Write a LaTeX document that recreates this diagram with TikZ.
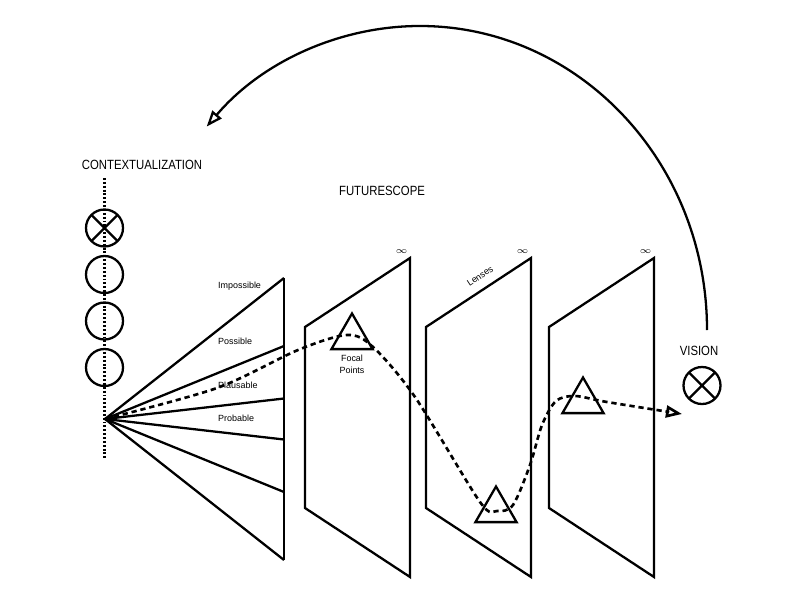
\documentclass[tikz,border=0pt]{standalone}
\usepackage{fontspec}
\setmainfont{Liberation Sans}
\newfontfamily\headfont[FakeStretch=0.85]{Liberation Sans}
\usetikzlibrary{arrows.meta, shapes.geometric}

\begin{document}
\begin{tikzpicture}[line width=1.3pt,
    heading/.style={font=\headfont\fontsize{7.6}{9}\selectfont},
    small/.style={font=\fontsize{5.1}{6.8}\selectfont, inner sep=0pt},
    ring/.style={draw, circle, minimum size=0.74cm, inner sep=0pt, outer sep=0pt},
    panel/.style={draw, line join=miter},
    focal/.style={draw, regular polygon, regular polygon sides=3,
                  minimum size=0.95cm, inner sep=0pt, outer sep=0pt},
    trail/.style={dash pattern=on 3pt off 2.2pt, line width=1.5pt},
    openhead/.style={-{Triangle[open, length=0.32cm, width=0.24cm]}}]
  \useasboundingbox (0,0) rectangle (16,12);
  % contextualization
  \node[heading] (ctx) at (2.84,8.70) {CONTEXTUALIZATION};
  \draw[dash pattern=on 1.1pt off 1.1pt] (2.09,8.44) -- (2.09,2.82);
  \foreach \y [count=\i] in {7.44,6.51,5.58,4.65}
    \node[ring] (c\i) at (2.09,\y) {};
  \draw (c1.north west) -- (c1.south east) (c1.north east) -- (c1.south west);
  % fan of futures
  \coordinate (apex) at (2.10,3.62);
  \foreach \dy [count=\i] in {2.82,1.46,0.41,-0.41,-1.46,-2.82}{%
    \coordinate (r\i) at (5.68,3.62+\dy);
    \draw (apex) -- (r\i);}
  \draw (r1) -- (r6);
  \foreach \lab/\y in {Impossible/6.28, Possible/5.18, Plausable/4.30, Probable/3.64}
    \node[small, anchor=west] (\lab) at (4.34,\y) {\lab};
  % lenses
  \node[heading] (scope) at (7.64,8.18) {FUTURESCOPE};
  \foreach \px [count=\i] in {6.10,8.52,10.98}{%
    \draw[panel] (\px,5.46) coordinate (p\i) -- ++(2.10,1.38) -- ++(0,-6.38)
      -- ++(-2.10,1.38) -- cycle;
    \node[small, font=\fontsize{5.3}{6}\selectfont] (inf\i) at (\px+1.93,6.96) {$\infty$};}
  \node[small, rotate=33.3] (lenses) at (9.60,6.48) {Lenses};
  \node[focal] (t1) at (7.04,5.255) {};
  \node[focal] (t2) at (9.92,1.795) {};
  \node[focal] (t3) at (11.66,3.975) {};
  \node[small, align=center] (fp) at (7.04,4.72) {Focal\\Points};
  % vision
  \node[heading] (vis) at (13.98,4.98) {VISION};
  \node[ring] (v) at (14.04,4.29) {};
  \draw (v.north west) -- (v.south east) (v.north east) -- (v.south west);
  \coordinate (trailend) at (13.64,3.72);
  \draw[trail, openhead] plot[smooth, tension=0.5] coordinates {(apex) (4.34,4.24)
    (5.96,5.00) (6.94,5.30) (7.46,5.06) (8.30,4.06) (9.60,1.96) (9.94,1.78)
    (10.26,1.90) (10.60,2.70) (10.84,3.50) (11.12,3.98) (11.50,4.08)
    (12.14,3.96) (trailend)};
  \coordinate (loopstart) at (14.14,5.40);
  \draw[openhead] (loopstart) arc[start angle=0, end angle=138,
    x radius=5.74cm, y radius=6.08cm];
\end{tikzpicture}
\end{document}
